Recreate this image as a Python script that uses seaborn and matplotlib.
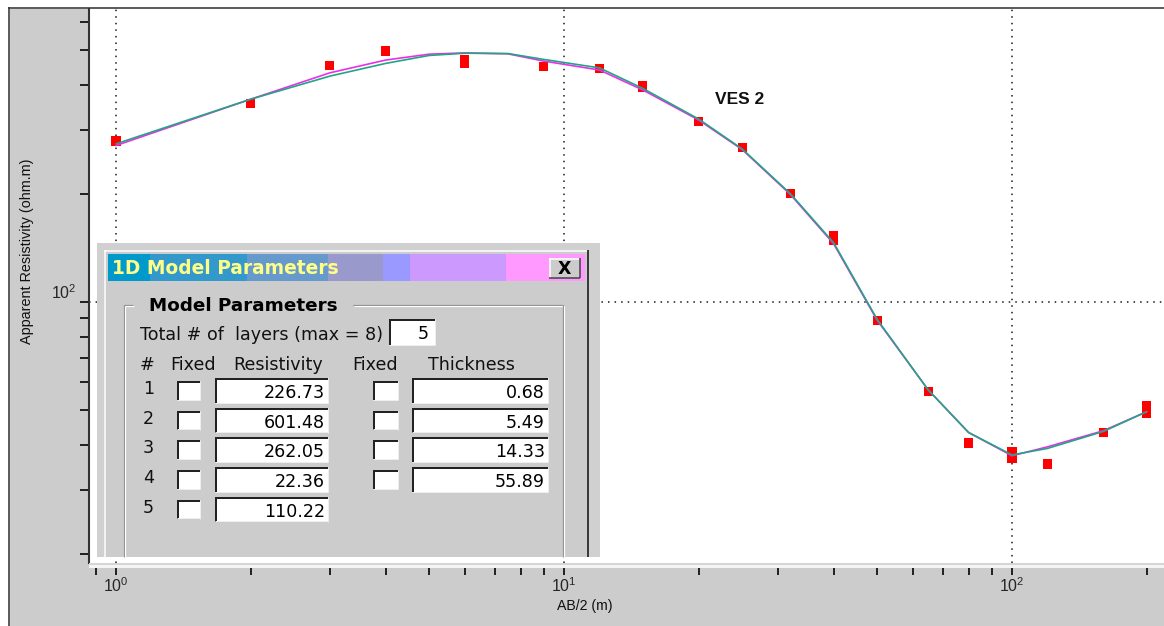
import matplotlib
matplotlib.use("Agg")
import matplotlib.pyplot as plt
from matplotlib.patches import Rectangle
from matplotlib.lines import Line2D
import pandas as pd
import seaborn as sns

# ---------------- data ----------------
ab2_obs = [1, 2, 3, 4, 6, 6, 9, 12, 15, 15, 20, 25, 32, 40, 40, 50, 65, 80,
           100, 100, 120, 160, 200, 200]
rho_obs = [280, 356, 455, 498, 470, 460, 452, 446, 400, 394, 318, 268, 200,
           153, 148, 89, 56.5, 40.6, 38.3, 36.7, 35.5, 43.4, 51.7, 49.0]
ab2_curve = [1, 2, 3, 4, 5, 6, 7.5, 9, 12, 15, 20, 25, 32, 40, 50, 65, 80,
             100, 120, 160, 200]
rho_calc = [272, 366, 433, 470, 488, 492, 489, 467, 441, 388, 320, 265, 199,
            145, 89, 57, 43.4, 37.4, 39.6, 43.9, 49.6]
rho_model = [275, 366, 424, 460, 484, 491, 490, 472, 447, 392, 322, 266, 200,
             146, 89.5, 57, 43.4, 37.6, 39.2, 43.7, 49.6]
x_major = [1, 10, 100]
x_major_labels = [r"$10^{0}$", r"$10^{1}$", r"$10^{2}$"]
x_minor = [0.9, 2, 3, 4, 5, 6, 7, 8, 9, 20, 30, 40, 50, 60, 70, 80, 90, 200]
y_major = [100]
y_major_labels = [r"$10^{2}$"]
y_minor = [20, 30, 40, 50, 60, 70, 80, 90, 200, 300, 400, 500, 600]

layer_ids = ["1", "2", "3", "4", "5"]
resistivity = ["226.73", "601.48", "262.05", "22.36", "110.22"]
thickness = ["0.68", "5.49", "14.33", "55.89"]
n_layers = "5"

title_segments = [(108, 150, "#0099cc"), (150, 247, "#3399cc"),
                  (247, 328, "#6699cc"), (328, 383, "#9999cc"),
                  (383, 410, "#9999ff"), (410, 506, "#cc99ff"),
                  (506, 585, "#ff99ff")]

# ---------------- figure ----------------
sns.set_style("white")
plt.rcParams["font.family"] = ["Liberation Sans", "DejaVu Sans"]
plt.rcParams["mathtext.fontset"] = "custom"
plt.rcParams["mathtext.rm"] = "Liberation Sans"
plt.rcParams["mathtext.it"] = "Liberation Sans"

W, H = 1164, 626
fig = plt.figure(figsize=(W / 100, H / 100), dpi=100)
fig.patch.set_facecolor("white")
GRAY = "#cccccc"


def rect(x0, y0, x1, y1, fc, z=10, ec="none", lw=0):
    fig.add_artist(Rectangle((x0 / W, 1 - y1 / H), (x1 - x0) / W, (y1 - y0) / H,
                             transform=fig.transFigure, facecolor=fc,
                             edgecolor=ec, linewidth=lw, zorder=z))


def line(x0, y0, x1, y1, color, lwpx=1.0, z=11):
    fig.add_artist(Line2D([x0 / W, x1 / W], [1 - y0 / H, 1 - y1 / H],
                          transform=fig.transFigure, color=color,
                          linewidth=lwpx * 0.72, solid_capstyle="butt", zorder=z))


def text(x, y, s, z=20, **kw):
    fig.text(x / W, 1 - y / H, s, zorder=z, **kw)


# outer gray frame
rect(8, 7, W, H, GRAY, z=-5)
line(8, 7.5, W, 7.5, "#3a3a3a", 1.5, z=-4)
line(8.5, 7, 8.5, H, "#3a3a3a", 1.5, z=-4)

# axes
L, R, T, B = 89, 1164, 9, 563
ax = fig.add_axes([L / W, 1 - B / H, (R - L) / W, (B - T) / H])
ax.set_facecolor("white")
ax.set_xscale("log")
ax.set_yscale("log")

curves = pd.DataFrame({
    "ab2": ab2_curve + ab2_curve,
    "rho": rho_calc + rho_model,
    "series": ["calc"] * len(ab2_curve) + ["model"] * len(ab2_curve),
})
obs = pd.DataFrame({"ab2": ab2_obs, "rho": rho_obs})

sns.scatterplot(data=obs, x="ab2", y="rho", marker="s", color="#ff0000",
                s=44, edgecolor="none", linewidth=0, ax=ax, zorder=3)
sns.lineplot(data=curves, x="ab2", y="rho", hue="series",
             palette={"calc": "#e830e8", "model": "#22a585"},
             sort=False, estimator=None, legend=False, linewidth=1.2,
             ax=ax, zorder=4)

ax.set_xlim(10 ** ((L - 116) / 448), 10 ** ((R - 116) / 448))
ax.set_ylim(10 ** (2 - (B - 302) / 360), 10 ** (2 + (302 - T) / 360))

ax.set_xticks(x_major)
ax.set_xticklabels(x_major_labels)
ax.set_xticks(x_minor, minor=True)
ax.set_xticklabels([], minor=True)
ax.set_yticks(y_major)
ax.set_yticklabels(y_major_labels)
ax.set_yticks(y_minor, minor=True)
ax.set_yticklabels([], minor=True)
for lab in ax.get_yticklabels():
    lab.set_va("bottom")

ax.tick_params(axis="x", which="both", direction="out", length=8.6, width=1.4,
               color="#202020", pad=1.0, labelsize=11.5, bottom=True)
ax.tick_params(axis="y", which="both", direction="out", length=6.2, width=1.4,
               color="#202020", pad=2.5, labelsize=11.5, left=True)
ax.set_xlabel("")
ax.set_ylabel("")

ax.grid(which="major", color="#1a1a1a", linestyle=(0, (1, 3.3)), linewidth=1.1)
ax.grid(which="minor", visible=False)

for s in ["top", "right", "bottom"]:
    ax.spines[s].set_visible(False)
ax.spines["left"].set_color("#333333")
ax.spines["left"].set_linewidth(1.5)

# sunken bottom edge of plot
rect(L, 563, W, 565, "#d6d6d6", z=5)
rect(L, 565, W, 568, "#f4f4f4", z=5)

text(27, 251, "Apparent Resistivity (ohm.m)", rotation=90, ha="center",
     va="center", fontsize=10.4, color="#111111")
text(585, 606, "AB/2 (m)", ha="center", va="center", fontsize=10.2,
     color="#111111")
text(740, 99, "VES 2", ha="center", va="center", fontsize=12.5,
     fontweight="bold", color="#111111", family="Liberation Sans")

# ---------------- dialog ----------------
DJ = "DejaVu Sans"
rect(97, 243, 600, 557, "#d0d0d0", z=10)
rect(104, 251, 588, 557, GRAY, z=10)
line(104, 250.5, 588, 250.5, "white", 1.5)
line(104.5, 250, 104.5, 557, "white", 1.5)
line(587.5, 250, 587.5, 557, "#3a3a3a", 2)

for x0, x1, c in title_segments:
    rect(x0, 254, x1, 281, c, z=11)
text(112.5, 268, "1D Model Parameters", ha="left", va="center",
     fontsize=13.4, fontweight="bold", color="#ffff88", family=DJ)

# close button
rect(549, 258, 580, 278, GRAY, z=12)
line(549, 258.5, 580, 258.5, "white", 1.5, z=13)
line(549.5, 258, 549.5, 278, "white", 1.5, z=13)
line(549, 277.5, 580, 277.5, "#404040", 1.5, z=13)
line(579.5, 258, 579.5, 278, "#404040", 1.5, z=13)
text(564.5, 268.5, "X", ha="center", va="center", fontsize=12.5,
     fontweight="bold", color="black", family=DJ)

# group box (etched)
for (xa, ya, xb, yb) in [(124, 305, 133, 305), (353, 305, 563, 305),
                         (124, 305, 124, 557), (563, 305, 563, 557)]:
    line(xa, ya, xb, yb, "#8a8a8a", 1.2, z=12)
    line(xa + 1.3, ya + 1.3, xb + 1.3, yb + 1.3, "white", 1.2, z=12)
text(149, 311, "Model Parameters", ha="left", va="baseline", fontsize=13.2,
     fontweight="bold", color="black", family=DJ)

text(140, 340, "Total # of  layers (max = 8)", ha="left", va="baseline",
     fontsize=12.6, color="#111111", family=DJ)


def field(x0, y0, x1, y1):
    rect(x0, y0, x1, y1, "white", z=12)
    line(x0, y0 + 1, x1, y0 + 1, "#222222", 2, z=13)
    line(x0 + 1, y0, x0 + 1, y1, "#222222", 2, z=13)
    line(x0, y1 - 0.5, x1, y1 - 0.5, "#eeeeee", 1, z=13)
    line(x1 - 0.5, y0, x1 - 0.5, y1, "#eeeeee", 1, z=13)


field(389, 319, 435, 345)
text(429, 339, n_layers, ha="right", va="baseline", fontsize=12.6,
     color="black", family=DJ)

hdr_y = 370
for x, s in [(140, "#"), (170, "Fixed"), (233, "Resistivity"),
             (352, "Fixed"), (428, "Thickness")]:
    text(x, hdr_y, s, ha="left", va="baseline", fontsize=12.6,
         color="#111111", family=DJ)

for i, lid in enumerate(layer_ids):
    dy = i * 29.7
    text(143, 394 + dy, lid, ha="left", va="baseline", fontsize=12.6,
         color="#111111", family=DJ)
    field(177, 381 + dy, 200, 400 + dy)
    field(215, 378 + dy, 328, 403 + dy)
    text(325, 398 + dy, resistivity[i], ha="right", va="baseline",
         fontsize=12.6, color="black", family=DJ)
    if i < len(thickness):
        field(373, 381 + dy, 398, 400 + dy)
        field(412, 378 + dy, 548, 403 + dy)
        text(545, 398 + dy, thickness[i], ha="right", va="baseline",
             fontsize=12.6, color="black", family=DJ)

fig.savefig("out.png", dpi=100, facecolor=fig.get_facecolor())
